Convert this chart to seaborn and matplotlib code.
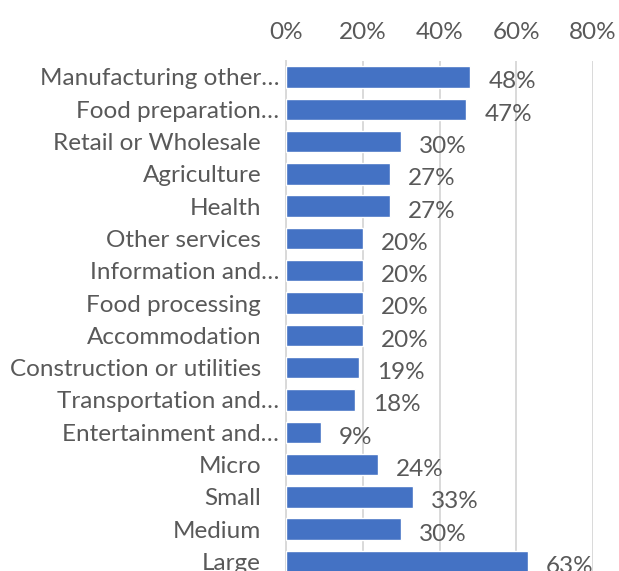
import matplotlib
matplotlib.use("Agg")
import matplotlib.pyplot as plt
import matplotlib.transforms as mtransforms
from matplotlib.ticker import FixedLocator
import seaborn as sns
import pandas as pd

categories = [
    "Manufacturing other…",
    "Food preparation…",
    "Retail or Wholesale",
    "Agriculture",
    "Health",
    "Other services",
    "Information and…",
    "Food processing",
    "Accommodation",
    "Construction or utilities",
    "Transportation and…",
    "Entertainment and…",
    "Micro",
    "Small",
    "Medium",
    "Large",
]
values = [48, 47, 30, 27, 27, 20, 20, 20, 20, 19, 18, 9, 24, 33, 30, 63]
x_ticks = [0, 20, 40, 60, 80]

df = pd.DataFrame({"category": categories, "value": [v / 100 for v in values]})

sns.set_theme(style="white")
plt.rcParams["font.family"] = ["Lato", "DejaVu Sans"]

W, H = 619, 571
fig = plt.figure(figsize=(W / 100, H / 100), dpi=100)
ax = fig.add_axes([286 / W, 1 - 577.6 / H, (593 - 286) / W, 516.8 / H])

text_color = "#595959"
bar_color = "#4472C4"
fs = 17.5

sns.barplot(data=df, x="value", y="category", orient="h", color=bar_color,
            saturation=1, width=0.66, ax=ax, zorder=3)

ax.set_xlim(0, 0.8)
ax.set_ylim(len(categories) - 0.5, -0.5)
ax.xaxis.set_major_locator(FixedLocator([t / 100 for t in x_ticks]))
ax.set_xticklabels([f"{t}%" for t in x_ticks])
ax.xaxis.tick_top()
ax.tick_params(axis="x", length=0, pad=13, labelsize=fs, labelcolor=text_color)
ax.tick_params(axis="y", length=0, pad=5, labelsize=fs, labelcolor=text_color)
ax.set_xlabel("")
ax.set_ylabel("")

ax.grid(axis="x", color="#D9D9D9", linewidth=1.4, zorder=0)
ax.grid(axis="y", visible=False)
for side in ["top", "right", "bottom"]:
    ax.spines[side].set_visible(False)
ax.spines["left"].set_color("#D9D9D9")
ax.spines["left"].set_linewidth(1.4)

# labels without an ellipsis sit a little further left
shift = mtransforms.ScaledTranslation(-18 / 100, 0, fig.dpi_scale_trans)
for lab in ax.get_yticklabels():
    if not lab.get_text().endswith("…"):
        lab.set_transform(lab.get_transform() + shift)

for i, v in enumerate(values):
    ax.annotate(f"{v}%", xy=(v / 100, i), xytext=(13, -3.5), textcoords="offset points",
                ha="left", va="center", fontsize=fs, color=text_color)

fig.savefig("out.png", dpi=100)
